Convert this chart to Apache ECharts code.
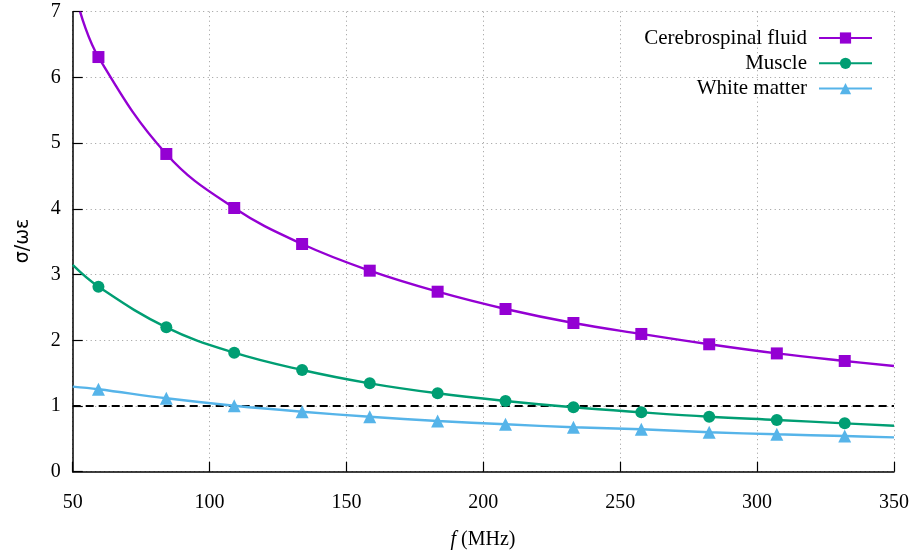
<!DOCTYPE html>
<html>
<head>
<meta charset="utf-8">
<script src="https://cdn.jsdelivr.net/npm/echarts@6/dist/echarts.min.js"></script>
<style>html,body{margin:0;padding:0;background:#fff;}#c{width:915px;height:557px;}</style>
</head>
<body>
<div id="c"></div>
<script>
// Frequencies (MHz) where markers are drawn
const markerFreqs = [59.4, 84.2, 109.0, 133.8, 158.5, 183.3, 208.1, 232.9, 257.7, 282.5, 307.2, 332.0];
// Values at the markers
const csfValues    = [6.31, 4.835, 4.013, 3.465, 3.059, 2.739, 2.476, 2.263, 2.096, 1.939, 1.80, 1.685];
const muscleValues = [2.816, 2.197, 1.811, 1.548, 1.345, 1.193, 1.076, 0.98, 0.904, 0.837, 0.787, 0.736];
const whiteValues  = [1.254, 1.117, 1.004, 0.913, 0.837, 0.772, 0.721, 0.676, 0.645, 0.60, 0.569, 0.543];
// Curve end points (freq, value)
const csfStart = [52.7, 7.0],    csfEnd = [350, 1.609];
const muscleStart = [50, 3.146], muscleEnd = [350, 0.70];
const whiteStart = [50, 1.294],  whiteEnd = [350, 0.523];
const seriesNames = ['Cerebrospinal fluid', 'Muscle', 'White matter'];
const xTicks = [50, 100, 150, 200, 250, 300, 350];
const yTicks = [0, 1, 2, 3, 4, 5, 6, 7];
const refLevel = [[50, 1], [350, 1]];

function build(start, vals, end) {
  const d = [{value: start, symbol: 'none'}];
  markerFreqs.forEach((f, i) => d.push({value: [f, vals[i]]}));
  d.push({value: end, symbol: 'none'});
  return d;
}

const serif = 'Liberation Serif';
const chart = echarts.init(document.getElementById('c'));
function curve(name, color, symbol, size, start, vals, end) {
  return {
    name, type: 'line', data: build(start, vals, end),
    smooth: 0.4,
    symbol, symbolSize: size, showSymbol: true, showAllSymbol: true,
    lineStyle: {color, width: 2.4}, itemStyle: {color},
    clip: true, z: 3
  };
}
chart.setOption({
  animation: false,
  backgroundColor: '#fff',
  grid: {left: 72.7, right: 21, top: 11.7, bottom: 85.3, containLabel: false},
  xAxis: {
    type: 'value', min: 50, max: 350, interval: 50,
    axisLine: {onZero: false, lineStyle: {color: '#000', width: 1.5}},
    axisTick: {inside: true, length: 10, lineStyle: {color: '#000', width: 1.2}},
    axisLabel: {margin: 21, color: '#000', fontFamily: serif, fontSize: 20,
      formatter: v => xTicks.includes(v) ? String(v) : ''},
    splitLine: {show: true, lineStyle: {color: '#999', type: [1, 3.5], width: 1}}
  },
  yAxis: {
    type: 'value', min: 0, max: 7, interval: 1,
    axisLine: {show: true, onZero: false, lineStyle: {color: '#000', width: 1.5}},
    axisTick: {show: true, inside: true, length: 10, lineStyle: {color: '#000', width: 1.2}},
    axisLabel: {margin: 12, color: '#000', fontFamily: serif, fontSize: 20,
      formatter: v => yTicks.includes(v) ? String(v) : ''},
    splitLine: {show: true, lineStyle: {color: '#999', type: [1, 3.5], width: 1}}
  },
  legend: {
    data: seriesNames, orient: 'vertical', align: 'right',
    right: 42, top: 27.5, padding: 0, itemGap: 4.3,
    itemWidth: 53, itemHeight: 14,
    textStyle: {fontFamily: serif, fontSize: 21, color: '#000', padding: [0, 7, 0, 0]}
  },
  graphic: [
    {type: 'text', x: 23, y: 241, rotation: Math.PI / 2,
      style: {text: 'σ/ωε', fontFamily: 'DejaVu Sans', fontSize: 19, fill: '#000', align: 'center', verticalAlign: 'middle'}},
    {type: 'text', x: 483, y: 540,
      style: {text: '{i|f} (MHz)', fontFamily: serif, fontSize: 20, fill: '#000', align: 'center', verticalAlign: 'middle',
        rich: {i: {fontStyle: 'italic', fontFamily: serif, fontSize: 20}}}}
  ],
  series: [
    {name: 'ref', type: 'line', data: refLevel, symbol: 'none', silent: true,
      lineStyle: {color: '#000', width: 1.8, type: [8, 5]}, z: 2},
    curve(seriesNames[0], '#9400D3', 'rect', 12, csfStart, csfValues, csfEnd),
    curve(seriesNames[1], '#009E73', 'circle', 12, muscleStart, muscleValues, muscleEnd),
    curve(seriesNames[2], '#56B4E9', 'triangle', 13, whiteStart, whiteValues, whiteEnd)
  ]
});
</script>
</body>
</html>
